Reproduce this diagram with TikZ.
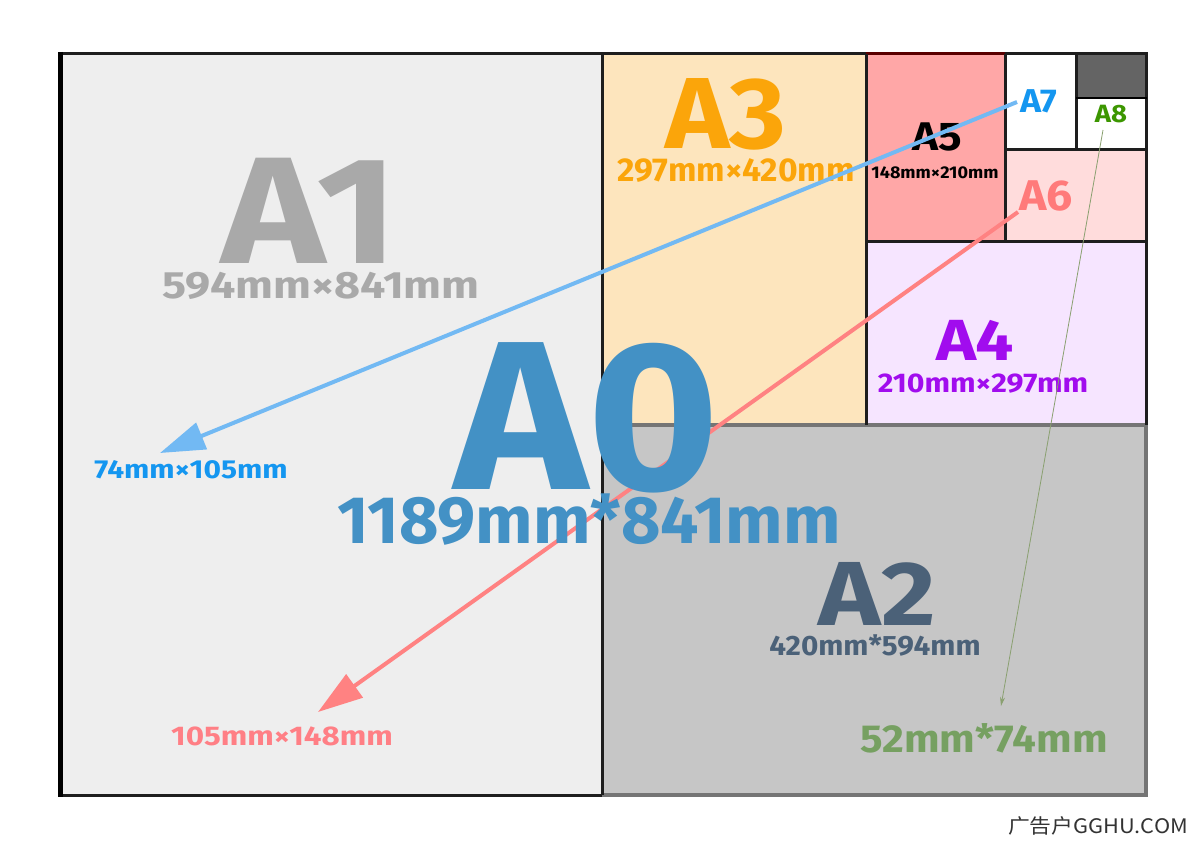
\documentclass[tikz,border=0pt]{standalone}
\usepackage{graphicx}
\usepackage{fontspec}
\setmainfont{Fira Sans}
\newfontfamily\cjk{Noto Sans CJK SC}
\usetikzlibrary{arrows.meta}
\newcommand\wx[2]{\scalebox{#1}[1]{#2}}
\definecolor{bgAone}{HTML}{EEEEEE}
\definecolor{bgAthree}{HTML}{FDE5BD}
\definecolor{bgAfive}{HTML}{FFA7A7}
\definecolor{bgAsix}{HTML}{FFDCDC}
\definecolor{bgAfour}{HTML}{F6E5FF}
\definecolor{bgAtwo}{HTML}{C6C6C6}
\definecolor{darkbox}{HTML}{646464}
\definecolor{frame}{HTML}{1E1E1E}
\definecolor{grayframe}{HTML}{757575}
\definecolor{tAzero}{HTML}{4391C5}
\definecolor{tAone}{HTML}{A9A9A9}
\definecolor{tAthree}{HTML}{FBA50A}
\definecolor{tAtwo}{HTML}{4B6178}
\definecolor{tAfour}{HTML}{A10CEE}
\definecolor{tAseven}{HTML}{1496F0}
\definecolor{tAeight}{HTML}{3C9600}
\definecolor{tAsix}{HTML}{FF7A7A}
\definecolor{tsalmon}{HTML}{FF7F85}
\definecolor{tgreen}{HTML}{76A061}
\definecolor{arrblue}{HTML}{72B9F3}
\definecolor{arrsalmon}{HTML}{FF8282}
\definecolor{arrgreen}{HTML}{8AA070}
\definecolor{wm}{HTML}{333333}
\begin{document}
\begin{tikzpicture}[x=1pt,y=-1pt,
  lbl/.style={inner sep=0pt, anchor=base},
  fs/.style={font=\bfseries\fontsize{#1}{#1}\selectfont},
  border/.style={draw=frame, line width=3pt},
  bigarrow/.style={line width=4pt, -{Triangle[length=45pt,width=28pt]}},
  thinarrow/.style={line width=0.8pt, -{Stealth[length=9pt,width=5pt]}}]
\useasboundingbox (0,0) rectangle (1199,851);
\fill[white] (0,0) rectangle (1199,851);
% fills
\fill[bgAone] (60,54) rectangle (602,795);
\fill[bgAthree] (602,54) rectangle (866,425);
\fill[bgAfive] (866,54) rectangle (1005,241);
\fill[white] (1005,54) rectangle (1147,149);
\fill[darkbox] (1076,54) rectangle (1147,98);
\fill[bgAsix] (1005,149) rectangle (1147,241);
\fill[bgAfour] (866,241) rectangle (1147,425);
\fill[bgAtwo] (602,425) rectangle (1147,795);
% borders
\draw[grayframe, line width=4pt] (602,425) -- (1146,425) -- (1146,795) -- (602,795);
\draw[frame, line width=3pt] (60,795) -- (602,795);
\draw[frame, line width=3pt] (60,54) -- (866,54);
\draw[draw={rgb,255:red,90;green,0;blue,0}, line width=3pt] (866,54) -- (1005,54);
\draw[frame, line width=3pt] (1005,54) -- (1146,54) -- (1146,425);
\draw[black, line width=5pt] (60,52) -- (60,797);
\draw[border] (602,54) -- (602,795);
\draw[border] (866,54) -- (866,425);
\draw[border] (1005,54) -- (1005,241);
\draw[border] (866,241) -- (1147,241);
\draw[border] (1005,149) -- (1147,149);
\draw[border] (1076,54) -- (1076,149);
\draw[black, line width=2pt] (1076,98) -- (1147,98);
% small labels
\node[lbl, fs=152, text=tAone] (A1) at (310,263) {\wx{1.16}{A1}};
\node[lbl, fs=38, text=tAone] (A1s) at (321,298) {\wx{1.18}{594mm×841mm}};
\node[lbl, fs=101, text=tAthree] (A3) at (726,148) {\wx{1.08}{A3}};
\node[lbl, fs=33, text=tAthree] (A3s) at (736,181) {\wx{1.02}{297mm×420mm}};
\node[lbl, fs=91, text=tAtwo] (A2) at (877,625) {\wx{1.16}{A2}};
\node[lbl, fs=28, text=tAtwo] (A2s) at (875,655) {\wx{1.06}{420mm*594mm}};
\node[lbl, fs=58, text=tAfour] (A4) at (975,360) {\wx{1.17}{A4}};
\node[lbl, fs=27, text=tAfour] (A4s) at (983,392) {\wx{1.12}{210mm×297mm}};
\node[lbl, fs=40, text=black] (A5) at (937,150) {\wx{1.1}{A5}};
\node[lbl, fs=17, text=black] (A5s) at (935,178) {\wx{1.06}{148mm×210mm}};
\node[lbl, fs=33, text=tAseven] (A7) at (1039,112) {\wx{1.08}{A7}};
\node[lbl, fs=25, text=tAeight] (A8) at (1111,122) {\wx{1.1}{A8}};
\node[lbl, fs=43, text=tAsix] (A6) at (1046,210) {\wx{1.08}{A6}};
\node[lbl, fs=26, text=tAseven] (A7s) at (191,478) {\wx{1.15}{74mm×105mm}};
\node[lbl, fs=27, text=tsalmon] (A6s) at (282,745) {\wx{1.16}{105mm×148mm}};
\node[lbl, fs=39, text=tgreen] (A8s) at (984,752) {\wx{1.08}{52mm*74mm}};
\node[lbl, text=wm, font=\cjk\fontsize{20}{20}\selectfont] (wm) at (1098,833) {\wx{1.09}{广告户GGHU.COM}};
% arrow end points
\coordinate (bS) at (1017,102);
\coordinate (bE) at (160,453);
\coordinate (sS) at (1018,212);
\coordinate (sE) at (318,712);
\coordinate (gS) at (1103,130);
\coordinate (gE) at (1001,706);
\draw[bigarrow, arrblue] (bS) -- (bE);
\draw[bigarrow, arrsalmon] (sS) -- (sE);
\draw[thinarrow, arrgreen] (gS) -- (gE);
% A0
\node[lbl, fs=212, text=tAzero] (A0) at (587,489) {\wx{1.065}{A0}};
\node[lbl, fs=67, text=tAzero] (A0s) at (589,543) {\wx{1.015}{1189mm*841mm}};
\end{tikzpicture}
\end{document}
